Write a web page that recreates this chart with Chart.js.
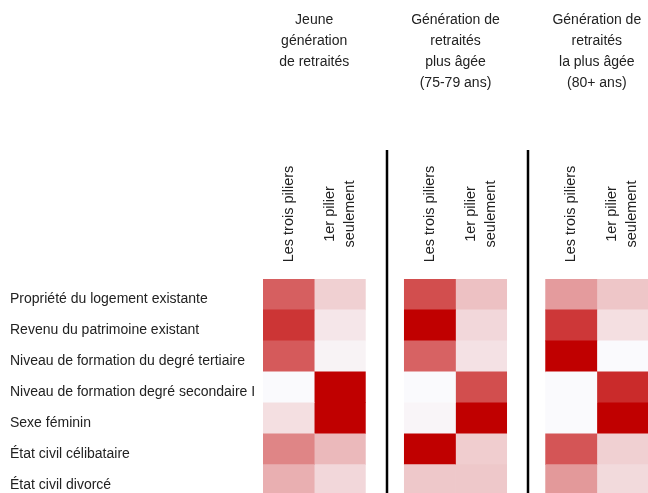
<!DOCTYPE html>
<html>
<head>
<meta charset="utf-8">
<script src="https://cdn.jsdelivr.net/npm/chart.js@4"></script>
<style>
  html, body { margin: 0; padding: 0; background: #fff; overflow: hidden; }
</style>
</head>
<body>
<canvas id="heat" width="648" height="504"></canvas>
<script>
const rows = [
  'Propriété du logement existante',
  'Revenu du patrimoine existant',
  'Niveau de formation du degré tertiaire',
  'Niveau de formation degré secondaire II',
  'Sexe féminin',
  'État civil célibataire',
  'État civil divorcé',
]

const groupTitles = [
  ['Jeune', 'génération', 'de retraités'],
  ['Génération de', 'retraités', 'plus âgée', '(75-79 ans)'],
  ['Génération de', 'retraités', 'la plus âgée', '(80+ ans)'],
]

const colLabels = [
  ['Les trois piliers'],
  ['1er pilier', 'seulement'],
]

// intensity 0..1 (white -> dark red)
const jeuneTrois        = [0.62, 0.79, 0.64, 0.00, 0.11, 0.47, 0.30]
const jeunePremier      = [0.17, 0.08, 0.03, 1.00, 1.00, 0.26, 0.14]
const plusAgeeTrois     = [0.69, 1.00, 0.61, 0.00, 0.02, 1.00, 0.20]
const plusAgeePremier   = [0.23, 0.14, 0.10, 0.69, 1.00, 0.18, 0.20]
const laPlusAgeeTrois   = [0.38, 0.78, 1.00, 0.00, 0.00, 0.66, 0.39]
const laPlusAgeePremier = [0.21, 0.11, 0.00, 0.83, 1.00, 0.17, 0.13]

const columns = [
  jeuneTrois, jeunePremier,
  plusAgeeTrois, plusAgeePremier,
  laPlusAgeeTrois, laPlusAgeePremier,
]

const GAP = 0.76
const colStart = (i) => Math.floor(i / 2) * (2 + GAP) + (i % 2)

function heatColor(t) {
  const lo = [250, 250, 253]
  const hi = [192, 0, 0]
  const c = lo.map((v, k) => Math.round(v + (hi[k] - v) * t))
  return `rgb(${c[0]},${c[1]},${c[2]})`
}

const FONT = '"Liberation Sans", Arial, sans-serif'

// row labels are cut just before the cells, as in the original
const clipLabels = {
  id: 'clipLabels',
  beforeDraw(chart) {
    const ctx = chart.ctx
    ctx.save()
    ctx.beginPath()
    ctx.rect(0, 0, chart.chartArea.left - 7, chart.height)
    ctx.clip()
  },
  beforeDatasetsDraw(chart) {
    chart.ctx.restore()
  },
}

const headerPlugin = {
  id: 'headers',
  afterDraw(chart) {
    const ctx = chart.ctx
    const x = chart.scales.x
    const bottom = chart.height
    ctx.save()

    // separators between groups
    ctx.strokeStyle = '#000'
    ctx.lineWidth = 2.5
    for (let g = 1; g < groupTitles.length; g++) {
      const sx = Math.round(x.getPixelForValue(g * (2 + GAP) - GAP * 0.45))
      ctx.beginPath()
      ctx.moveTo(sx, 150)
      ctx.lineTo(sx, bottom)
      ctx.stroke()
    }

    ctx.fillStyle = '#222'
    ctx.font = '14px ' + FONT
    ctx.textAlign = 'center'
    ctx.textBaseline = 'middle'

    // group titles
    groupTitles.forEach((lines, g) => {
      const cx = x.getPixelForValue(g * (2 + GAP) + 1)
      lines.forEach((ln, k) => ctx.fillText(ln, cx, 20 + k * 21))
    })

    // rotated column labels
    ctx.font = '14.5px ' + FONT
    columns.forEach((col, i) => {
      const lines = colLabels[i % 2]
      const cx = x.getPixelForValue(colStart(i) + 0.5)
      ctx.save()
      ctx.translate(cx, 214)
      ctx.rotate(-Math.PI / 2)
      lines.forEach((ln, k) => {
        const off = (k - (lines.length - 1) / 2) * 20
        ctx.fillText(ln, 0, off)
      })
      ctx.restore()
    })

    ctx.restore()
  }
}

new Chart(document.getElementById('heat'), {
  type: 'bar',
  data: {
    labels: rows,
    datasets: columns.map((vals, i) => ({
      data: vals.map(() => [colStart(i), colStart(i) + 1]),
      backgroundColor: vals.map(heatColor),
      borderWidth: 0,
      barPercentage: 1,
      categoryPercentage: 1,
      grouped: false,
    })),
  },
  options: {
    indexAxis: 'y',
    responsive: false,
    animation: false,
    layout: {padding: {top: 279, left: 10, right: 0, bottom: 0}},
    plugins: {legend: {display: false}, tooltip: {enabled: false}},
    scales: {
      x: {
        type: 'linear',
        display: false,
        min: 0,
        max: 6 + 2 * GAP,
      },
      y: {
        type: 'category',
        grid: {display: false},
        border: {display: false},
        afterFit(scale) { scale.width = 253 },
        ticks: {
          crossAlign: 'far',
          color: '#222',
          font: {family: FONT, size: 14},
          padding: 0,
          labelOffset: 5,
        },
      },
    },
  },
  plugins: [clipLabels, headerPlugin],
})
</script>
</body>
</html>
